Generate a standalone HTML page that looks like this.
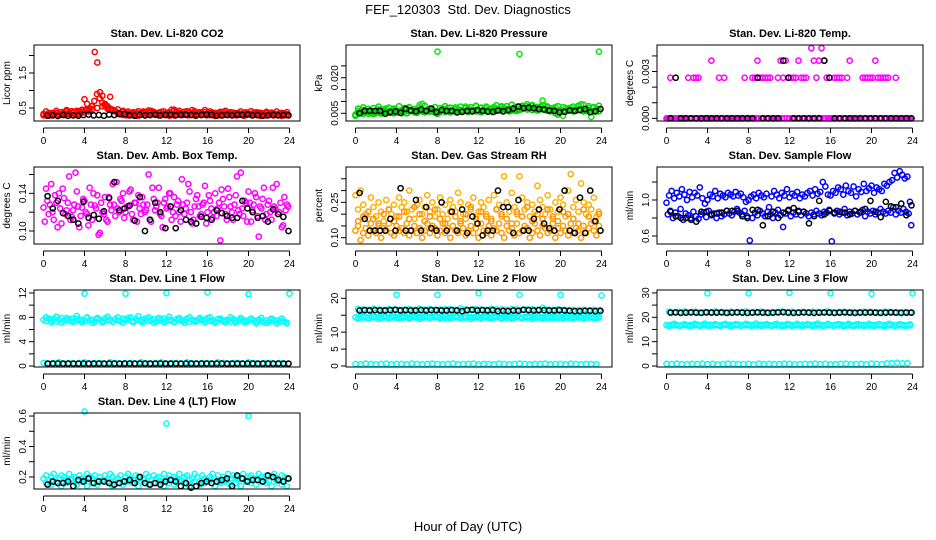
<!DOCTYPE html>
<html><head><meta charset="utf-8"><style>
html,body{margin:0;padding:0;background:#fff;}
svg{display:block;font-family:"Liberation Sans",Arial,sans-serif;}
</style></head><body>
<svg id="chart" width="936" height="540" viewBox="0 0 936 540">
<text x="468" y="14" font-size="13" text-anchor="middle" style="white-space:pre">FEF_120303  Std. Dev. Diagnostics</text>
<text x="468" y="531" font-size="13" text-anchor="middle">Hour of Day (UTC)</text>
</svg>
<script>
// ---- data arrays ----
const co2Red1=[.33,.30,.35,.31,.34,.36,.32,.38,.35,.40,.37,.41,.39,.42,.40,.43,.75,.62,.48,.55,2.1,1.8,.95,.85,.62,.55,.82,.45,.40,.36,.34,.38,.33,.35,.31,.34,.37,.33,.36,.40,.35,.38,.42,.36,.34,.37,.39,.33,.35,.32,.45,.42,.38,.36,.34,.39,.41,.37,.44,.35,.33,.36,.34,.38,.32,.35,.37,.33,.36,.34,.38,.40,.35,.33,.37,.34,.36,.32,.35,.38,.34,.33,.36,.35,.37,.34,.32,.35,.33,.36,.34,.31,.35,.33,.34,.32];
const co2Red2=[.29,.31,.28,.30,.32,.29,.31,.33,.30,.34,.32,.35,.31,.33,.36,.38,.45,.40,.55,.70,.90,.78,.65,.58,.50,.48,.42,.40,.33,.31,.30,.29,.32,.30,.31,.28,.30,.32,.29,.31,.30,.33,.31,.29,.30,.32,.31,.28,.30,.29,.31,.33,.30,.32,.29,.31,.30,.28,.32,.30,.31,.29,.30,.32,.28,.31,.30,.29,.32,.30,.31,.33,.29,.30,.31,.28,.30,.32,.29,.31,.30,.28,.31,.29,.30,.32,.29,.31,.30,.28,.29,.30];
const co2Red3=[.40,.36,.42,.38,.44,.41,.39,.45,.43,.47,.50,.55,.48,.44,.46,.42,.40,.38,.41,.37,.43,.39,.36,.40,.38,.45,.42,.39,.37,.41,.38,.44,.40,.36,.39,.42,.38,.35,.40,.37,.41,.38,.36,.39,.37,.40,.36,.38];
const co2Black=[.28,.29,.27,.30,.28,.29,.28,.30,.31,.29,.30,.28,.31,.30,.34,.33,.29,.28,.30,.29,.30,.31,.29,.30,.31,.29,.30,.31,.30,.29,.30,.32,.30,.28,.29,.30,.29,.31,.30,.32,.29,.30,.28,.29,.30,.29,.30,.29];

const presGreen1=[.0045,.0060,.0050,.0065,.0055,.0048,.0062,.0058,.0050,.0066,.0054,.0060,.0070,.0058,.0052,.0064,.0056,.0061,.0050,.0066,.0072,.0058,.0060,.0055,.0064,.0085,.0090,.0062,.0058,.0070,.0066,.0060,.0310,.0055,.0062,.0068,.0072,.0060,.0058,.0075,.0066,.0062,.0060,.0078,.0070,.0064,.0060,.0080,.0058,.0072,.0066,.0074,.0062,.0068,.0076,.0070,.0064,.0080,.0072,.0066,.0070,.0062,.0074,.0068,.0300,.0078,.0072,.0080,.0070,.0085,.0076,.0068,.0078,.0104,.0082,.0074,.0066,.0070,.0076,.0060,.0064,.0040,.0072,.0066,.0074,.0062,.0070,.0080,.0088,.0068,.0064,.0072,.0035,.0074,.0070,.0310];
const presGreen2=[.0040,.0052,.0058,.0048,.0055,.0060,.0050,.0047,.0056,.0062,.0049,.0054,.0058,.0052,.0060,.0050,.0053,.0058,.0062,.0055,.0050,.0059,.0063,.0056,.0052,.0060,.0058,.0054,.0062,.0057,.0060,.0053,.0048,.0058,.0064,.0056,.0060,.0054,.0062,.0059,.0055,.0063,.0058,.0060,.0056,.0064,.0060,.0058,.0062,.0055,.0060,.0065,.0058,.0062,.0056,.0060,.0064,.0066,.0060,.0063,.0058,.0067,.0062,.0060,.0064,.0068,.0072,.0066,.0070,.0064,.0068,.0062,.0066,.0070,.0064,.0060,.0058,.0062,.0050,.0045,.0056,.0060,.0058,.0062,.0064,.0058,.0060,.0066,.0062,.0058,.0060,.0064,.0056,.0060,.0062,.0058];
const presGreen3=[.0070,.0075,.0068,.0072,.0078,.0066,.0074,.0070,.0080,.0072,.0076,.0068,.0074,.0082,.0070,.0076,.0072,.0080,.0074,.0068,.0078,.0072,.0076,.0082,.0074,.0078,.0070,.0084,.0076,.0080,.0086,.0078,.0082,.0088,.0080,.0076,.0084,.0078,.0072,.0080,.0076,.0070,.0078,.0082,.0086,.0080,.0076,.0082];
const presBlack=[.0050,.0060,.0060,.0060,.0060,.0048,.0055,.0058,.0052,.0068,.0062,.0058,.0066,.0060,.0070,.0055,.0064,.0060,.0060,.0054,.0056,.0060,.0058,.0064,.0060,.0057,.0056,.0062,.0058,.0064,.0070,.0078,.0072,.0074,.0072,.0068,.0066,.0062,.0060,.0054,.0056,.0062,.0060,.0064,.0068,.0055,.0058,.0068];

const tempMag1=[0,0,0,0,0,0,0,0,0,0,0,0,0,0,0,0,0,0,0,0,0,0,0,0,0,0,0,0,0,0,0,0,0,0,0,0,0,0,0,0,0,0,0,0,0,0,0,0,0,0,0,0,0,0,0,0,0,0,0,0,0,0,0,0,0,0,0,0,0,0,0,0,0,0,0,0,0,0,0,0,0,0,0,0,0,0,0,0,0,0,0,0,0,0,0,0];
const tempMag2=[0,.0026,0,0,0,0,0,0,.0026,0,.0026,.0026,.0026,0,0,0,0,.0037,0,0,.0026,0,.0026,0,0,0,0,0,0,0,.0026,0,0,.0026,.0026,.0037,.0026,.0026,.0026,.0026,.0026,0,0,.0026,.0037,.0026,.0037,.0026,.0026,.0026,.0026,.0037,.0026,.0026,.0026,0,.0045,.0037,.0026,.0037,.0045,.0037,.0026,0,0,.0026,.0026,.0026,.0026,0,.0026,.0037,0,0,0,0,.0026,.0026,.0026,.0026,.0026,.0037,.0026,.0026,.0026,.0026,.0026,0,0,.0026,0,0,0,0,0,0];
const tempBlack=[0,.0026,0,0,0,0,0,0,0,0,0,0,0,0,0,0,0,.0026,0,0,0,0,.0037,.0026,0,0,0,0,0,0,.0037,.0026,0,0,0,0,0,0,0,0,0,0,0,0,0,0,0,0];

const ambMag1=[.125,.145,.118,.150,.112,.130,.140,.108,.135,.122,.158,.115,.128,.142,.104,.125,.132,.118,.146,.112,.127,.138,.098,.120,.136,.110,.128,.150,.116,.124,.134,.140,.120,.126,.144,.112,.130,.138,.118,.128,.122,.160,.110,.134,.126,.146,.116,.130,.124,.140,.112,.136,.128,.120,.155,.118,.130,.142,.108,.126,.138,.116,.128,.148,.120,.132,.114,.140,.124,.090,.134,.118,.145,.126,.112,.138,.122,.162,.116,.130,.142,.110,.128,.136,.094,.124,.146,.118,.132,.112,.126,.150,.120,.104,.136,.128];
const ambMag2=[.110,.132,.128,.120,.138,.104,.124,.145,.118,.130,.112,.122,.162,.126,.116,.134,.120,.106,.128,.140,.124,.096,.130,.118,.112,.136,.122,.128,.152,.120,.132,.114,.126,.142,.118,.130,.110,.124,.136,.120,.128,.112,.146,.122,.130,.118,.104,.134,.126,.140,.120,.116,.132,.110,.128,.124,.150,.120,.112,.134,.126,.118,.130,.108,.138,.124,.120,.116,.130,.144,.126,.112,.136,.120,.128,.158,.118,.124,.132,.110,.130,.122,.140,.116,.126,.134,.112,.128,.120,.146,.124,.118,.130,.106,.122,.126];
const ambBlack=[.137,.124,.132,.119,.116,.112,.108,.131,.114,.117,.113,.121,.135,.152,.122,.124,.127,.111,.136,.100,.112,.130,.120,.103,.126,.103,.122,.112,.110,.108,.115,.114,.112,.122,.119,.116,.114,.114,.132,.124,.120,.114,.116,.110,.123,.118,.115,.100];

const rhOrange1=[.13,.15,.09,.12,.14,.11,.16,.13,.12,.15,.10,.14,.13,.16,.12,.11,.15,.13,.14,.12,.16,.11,.13,.15,.12,.14,.10,.13,.16,.12,.15,.14,.11,.13,.16,.12,.14,.10,.15,.13,.12,.16,.14,.11,.13,.15,.12,.14,.10,.16,.13,.12,.15,.11,.14,.13,.16,.12,.10,.15,.13,.14,.11,.16,.12,.13,.15,.14,.10,.12,.16,.13,.11,.15,.14,.12,.13,.16,.10,.14,.12,.15,.13,.11,.16,.12,.14,.13,.10,.15,.12,.14,.16,.13,.11,.15];
const rhOrange2=[.28,.22,.30,.24,.20,.18,.27,.23,.19,.25,.21,.17,.26,.22,.20,.24,.19,.27,.23,.25,.21,.30,.22,.18,.24,.26,.20,.23,.28,.21,.25,.19,.22,.27,.20,.24,.18,.26,.23,.21,.29,.25,.20,.18,.24,.22,.27,.19,.21,.25,.23,.20,.26,.18,.28,.22,.24,.19,.36,.25,.21,.29,.23,.20,.36,.27,.22,.25,.19,.24,.21,.32,.26,.23,.20,.28,.22,.18,.25,.21,.27,.24,.19,.30,.37,.23,.26,.21,.33,.25,.20,.24,.22,.27,.19,.21];
const rhOrange3=[.17,.19,.21,.18,.16,.20,.22,.17,.19,.21,.18,.23,.20,.17,.19,.22,.18,.16,.21,.19,.17,.20,.23,.18,.21,.19,.17,.22,.20,.18,.16,.21,.19,.23,.17,.20,.18,.22,.19,.17,.21,.20,.18,.16,.22,.19,.17,.20];
const rhBlack=[.29,.18,.13,.13,.13,.13,.18,.13,.31,.13,.13,.26,.13,.23,.14,.13,.25,.13,.21,.13,.22,.12,.19,.16,.11,.13,.13,.30,.23,.23,.12,.26,.13,.13,.18,.22,.16,.14,.13,.22,.30,.13,.12,.27,.12,.30,.17,.13];

const flowBlue1=[.84,.88,.80,.86,.82,.90,.78,.85,.83,.80,.87,.82,.79,.84,.86,.81,.88,.83,.85,.80,.86,.82,.84,.88,.85,.83,.87,.90,.86,.84,.88,.82,.55,.80,.86,.83,.88,.85,.82,.87,.84,.80,.86,.89,.83,.70,.85,.88,.82,.86,.84,.88,.83,.87,.85,.82,.86,.84,.88,.85,.83,.87,.86,.89,.54,.85,.88,.84,.86,.90,.83,.87,.85,.88,.84,.86,.89,.82,.87,.85,.88,.84,.86,.90,.87,.85,.88,.86,.92,.84,.88,.86,.90,.87,.85,.72];
const flowBlue2=[.97,1.05,1.10,1.02,1.08,1.04,1.12,1.06,1.00,1.09,1.03,1.08,1.05,1.14,1.02,.96,1.00,1.06,1.04,1.10,1.02,1.07,1.05,1.03,1.08,1.06,1.04,1.09,1.05,1.07,1.03,.98,1.00,1.04,1.06,1.02,1.08,1.05,1.03,1.07,.92,1.04,1.10,1.06,1.02,1.08,1.05,1.12,1.03,1.07,1.05,1.09,1.02,1.06,1.04,1.08,1.10,1.05,1.12,1.07,1.09,1.20,1.15,1.06,1.05,1.10,1.08,1.14,1.12,1.06,1.16,1.10,1.08,1.15,1.04,1.12,1.09,1.18,1.10,1.13,1.16,1.08,1.14,1.12,1.10,1.18,1.16,1.20,1.22,1.30,1.25,1.32,1.28,1.24,1.26,.98];
const flowBlack=[.87,.82,.80,.80,.78,.76,.87,.87,.84,.85,.86,.88,.88,.88,.82,.80,.89,.89,.72,.82,.87,.80,.86,.89,.91,.87,.87,.74,.82,.99,.84,.88,.86,.87,.86,.84,.88,.87,.90,.99,.87,.81,.98,.93,.92,.96,.83,.94];

const line1Cyan1=[7.6,7.4,7.8,7.5,7.7,7.3,7.6,7.9,7.4,7.6,7.5,7.8,7.3,7.7,7.5,7.6,7.4,7.9,7.5,7.6,7.3,7.7,7.6,7.4,7.8,7.5,7.6,7.3,7.7,7.5,7.4,7.8,7.6,7.5,8.0,7.4,7.7,7.5,7.3,7.6,7.8,7.4,7.5,7.7,7.3,7.6,7.5,7.8,7.4,7.6,7.5,7.3,7.7,7.6,7.4,7.5,7.8,7.3,7.6,7.5,7.4,7.7,7.5,7.6,7.9,7.4,7.5,7.3,7.7,7.6,7.4,7.5,7.6,7.3,7.7,7.4,7.5,7.6,7.3,7.5,7.4,7.7,7.5,7.3,7.6,7.4,7.2,7.5,7.3,7.6,7.4,7.5,7.2,7.4,7.3,7.1];
const line1Cyan2=[0.5,0.4,0.5,0.6,0.4,0.5,0.4,0.5,0.6,0.4,0.5,0.5,0.4,0.6,0.5,0.4,0.5,0.5,0.4,0.6,0.5,0.4,0.5,0.6,0.4,0.5,0.5,0.4,0.6,0.5,0.4,0.5,0.5,0.4,0.6,0.5,0.4,0.5,0.5,0.4,0.6,0.5,0.4,0.5,0.5,0.4,0.5,0.4];
const line1Cyan3=[8.0,7.2,8.1,7.1,7.9,7.3,8.2,7.2,8.0,7.1,7.9,7.2,8.1,7.3,8.0,7.1,7.9,7.2,8.2,7.3,8.0,7.1,7.9,7.2,8.1,7.2,7.9,7.1,8.0,7.3,7.9,7.2,8.0,7.1,7.8,7.2,8.0,7.1,7.9,7.2,7.8,7.0,7.9,7.1,7.8,7.0,7.8,7.0];
const line1Black=[0.4,0.4,0.4,0.4,0.4,0.4,0.4,0.4,0.4,0.4,0.4,0.4,0.4,0.4,0.4,0.4,0.4,0.4,0.4,0.4,0.4,0.4,0.4,0.4,0.4,0.4,0.4,0.4,0.4,0.4,0.4,0.4,0.4,0.4,0.4,0.4,0.4,0.4,0.4,0.4,0.4,0.4,0.4,0.4,0.4,0.4,0.4,0.4];
const line1OutHours=[4,8,12,16,20,24];
const line1OutVals=[11.9,11.9,12.0,12.1,11.8,11.9];

const line2Cyan1=[14.4,14.2,14.6,14.3,14.5,14.1,14.4,14.6,14.3,14.5,14.2,14.4,14.6,14.3,14.5,14.4,14.2,14.6,14.3,14.4,14.5,14.2,14.6,14.4,14.3,14.5,14.2,14.4,14.6,14.3,14.5,14.4,14.6,14.3,14.5,14.2,14.4,14.6,14.3,14.5,14.4,14.2,14.6,14.3,14.4,14.5,14.2,14.4,14.6,14.3,14.5,14.4,14.2,14.6,14.3,14.5,14.4,14.3,14.6,14.2,14.5,14.4,14.3,14.6,14.4,14.2,14.5,14.3,14.6,14.4,14.2,14.5,14.3,14.4,14.6,14.2,14.4,14.5,14.3,14.2,14.5,14.4,14.6,14.3,14.2,14.4,14.5,14.3,14.6,14.2,14.4,14.3,14.5,14.4,14.2,14.3];
const line2Cyan2=[0.6,0.5,0.7,0.6,0.5,0.6,0.7,0.5,0.6,0.6,0.5,0.7,0.6,0.5,0.6,0.7,0.6,0.5,0.6,0.7,0.5,0.6,0.6,0.7,0.5,0.6,0.6,0.5,0.7,0.6,0.5,0.6,0.7,0.6,0.5,0.6,0.6,0.7,0.5,0.6,0.6,0.5,0.7,0.6,0.5,0.6,0.6,0.5];
const line2Cyan3=[16.8,16.7,16.6,16.9,16.7,16.6,16.8,16.7,16.6,16.7,16.8,16.6,16.9,16.7,16.8,16.6,16.7,16.7,16.8,16.6,17.0,16.7,16.6,16.8,16.7,16.6,16.9,16.7,16.7,16.6,16.8,16.7,16.6,16.7,16.8,16.6,17.2,16.7,16.6,16.7,16.6,16.5,16.6,16.5,16.6,16.5,16.6,16.5];
const line2Cyan4=[14.0,14.8,14.1,14.7,13.9,14.8,14.0,14.9,14.1,14.7,14.0,14.8,13.9,14.7,14.1,14.8,14.0,14.9,14.0,14.7,14.1,14.8,13.9,14.7,14.0,14.8,14.1,14.7,14.0,14.9,14.0,14.8,14.1,14.7,13.9,14.8,14.0,14.7,14.1,14.8,14.0,14.7,13.9,14.8,14.0,14.7,14.1,14.6];
const line2Black=[16.4,16.5,16.4,16.5,16.4,16.4,16.5,16.6,16.4,16.5,16.4,16.4,16.5,16.4,16.5,16.5,16.4,16.4,16.5,16.4,16.2,16.5,16.6,16.4,16.5,16.4,16.5,16.2,16.3,16.2,16.4,16.3,16.6,16.5,16.4,16.5,16.5,16.4,16.4,16.5,16.4,16.3,16.2,16.2,16.3,16.3,16.2,16.3];
const line2OutHours=[4,8,12,16,20,24];
const line2OutVals=[21.0,21.0,21.5,21.0,21.0,20.8];

const line3Cyan1=[16.8,16.6,17.0,16.7,16.9,16.5,16.8,17.0,16.7,16.9,16.6,16.8,17.0,16.7,16.9,16.8,16.6,17.0,16.7,16.8,16.9,16.6,17.0,16.8,16.7,16.9,16.6,16.8,17.0,16.7,16.9,16.8,17.0,16.7,16.9,16.6,16.8,17.0,16.7,16.9,16.8,16.6,17.0,16.7,16.8,16.9,16.6,16.8,17.0,16.7,16.9,16.8,16.6,17.0,16.7,16.9,16.8,16.7,17.0,16.6,16.9,16.8,16.7,17.0,16.8,16.6,16.9,16.7,17.0,16.8,16.6,16.9,16.7,16.8,17.0,16.6,16.8,16.9,16.7,16.6,16.9,16.8,17.0,16.7,16.6,16.8,16.9,16.7,17.0,16.6,16.8,16.7,16.9,16.8,16.6,16.7];
const line3Cyan2=[0.9,0.8,1.0,0.8,0.7,0.9,0.8,1.0,0.8,0.9,0.7,0.8,1.0,0.9,0.8,0.8,0.9,0.7,1.0,0.8,0.9,0.8,0.8,1.0,0.9,0.7,0.8,0.9,0.8,1.0,0.8,0.9,0.7,0.8,0.9,1.0,0.8,0.8,0.9,0.7,1.0,0.9,0.8,1.1,1.2,1.3,1.1,1.2];
const line3Cyan3=[22.3,22.0,22.2,22.4,22.1,22.3,22.0,22.2,22.1,22.4,22.2,22.0,22.3,22.1,22.2,22.4,22.0,22.2,22.3,22.1,22.0,22.2,22.4,22.1,22.3,22.0,22.2,22.1,22.3,22.2,22.0,22.4,22.1,22.2,22.3,22.0,22.2,22.1,22.3,22.2,22.0,22.1,22.3,22.2,22.0,22.1,22.2,22.0];
const line3Cyan4=[16.4,17.3,16.5,17.2,16.3,17.3,16.4,17.4,16.5,17.2,16.4,17.3,16.3,17.2,16.5,17.3,16.4,17.4,16.4,17.2,16.5,17.3,16.3,17.2,16.4,17.3,16.5,17.2,16.4,17.4,16.4,17.3,16.5,17.2,16.3,17.3,16.4,17.2,16.5,17.3,16.4,17.2,16.3,17.3,16.4,17.2,16.5,17.1];
const line3Black=[21.9,22.0,21.8,21.9,22.0,21.9,21.8,22.0,21.9,21.9,22.0,21.8,21.9,22.0,21.9,21.8,21.9,22.0,21.9,21.8,21.9,22.0,22.1,21.9,21.8,21.9,22.0,21.9,21.8,21.9,22.0,21.9,21.8,21.9,22.0,21.9,21.8,21.9,21.9,22.0,21.9,21.8,21.9,22.0,21.9,21.8,21.9,21.9];
const line3OutHours=[4,8,12,16,20,24];
const line3OutVals=[29.8,29.8,30.0,29.8,29.6,29.8];

const line4Cyan1=[.19,.21,.18,.20,.22,.17,.19,.21,.20,.18,.22,.19,.20,.17,.21,.19,.18,.22,.20,.19,.21,.17,.20,.18,.21,.19,.22,.20,.18,.19,.21,.17,.20,.22,.19,.18,.21,.20,.17,.19,.22,.20,.18,.21,.19,.20,.17,.22,.19,.21,.18,.20,.19,.22,.17,.20,.21,.18,.19,.22,.20,.17,.21,.19,.18,.20,.22,.19,.21,.17,.20,.18,.22,.19,.21,.20,.18,.19,.22,.17,.20,.21,.19,.18,.22,.20,.19,.21,.17,.20,.22,.19,.18,.21,.20,.19];
const line4Cyan2=[.16,.15,.17,.14,.16,.18,.15,.17,.14,.16,.15,.18,.17,.14,.16,.15,.17,.16,.14,.18,.15,.16,.17,.14,.16,.15,.18,.16,.14,.17,.15,.16,.18,.14,.16,.17,.15,.16,.14,.18,.16,.15,.17,.16,.14,.17,.15,.14];
const line4Black=[.15,.17,.16,.16,.17,.14,.18,.17,.19,.16,.17,.17,.16,.15,.16,.17,.18,.16,.20,.16,.15,.16,.15,.17,.18,.17,.14,.16,.13,.14,.16,.17,.16,.17,.18,.19,.14,.21,.19,.17,.18,.18,.17,.21,.20,.18,.17,.19];
const line4OutHours=[4,12,20];
const line4OutVals=[0.63,0.55,0.60];

const xTicks=[0,4,8,12,16,20,24];

// ---- layout ----
const NS="http://www.w3.org/2000/svg";
const svg=document.getElementById('chart');
const colL=[34,346,657], W=266;
const rowT=[45,167,290,413], rowB=[121,244,367,489];
function el(tag,attrs,parent){const e=document.createElementNS(NS,tag);for(const k in attrs)e.setAttribute(k,attrs[k]);(parent||svg).appendChild(e);return e;}

const panels=[
 {name:'co2',title:'Stan. Dev. Li-820 CO2',ylab:'Licor ppm',c:0,r:0,ymin:0.129,ymax:2.3,ticks:[0.5,1.0,1.5,2.0],tl:['0.5','','1.5',''],
  series:[[co2Red1,'#ff0000'],[co2Red3,'#ff0000'],[co2Red2,'#ff0000'],[co2Black,'#000000']]},
 {name:'pressure',title:'Stan. Dev. Li-820 Pressure',ylab:'kPa',c:1,r:0,ymin:0.00175,ymax:0.0338,ticks:[0.005,0.010,0.015,0.020,0.025],tl:['0.005','','','0.020',''],
  series:[[presGreen1,'#00ee00'],[presGreen3,'#00dd00'],[presGreen2,'#00cc00'],[presBlack,'#000000']]},
 {name:'temp',title:'Stan. Dev. Li-820 Temp.',ylab:'degrees C',c:2,r:0,ymin:-0.00017,ymax:0.0047,ticks:[0,0.001,0.002,0.003,0.004],tl:['0.000','','','0.003',''],
  series:[[tempMag1,'#ff00ff'],[tempMag2,'#ff00ff'],[tempBlack,'#000000']]},
 {name:'amb-temp',title:'Stan. Dev. Amb. Box Temp.',ylab:'degrees C',c:0,r:1,ymin:0.0862,ymax:0.168,ticks:[0.10,0.12,0.14,0.16],tl:['0.10','','0.14',''],
  series:[[ambMag1,'#ff00ff'],[ambMag2,'#ff00ff'],[ambBlack,'#000000']]},
 {name:'rh',title:'Stan. Dev. Gas Stream RH',ylab:'percent',c:1,r:1,ymin:0.0733,ymax:0.40,ticks:[0.10,0.15,0.20,0.25,0.30,0.35],tl:['0.10','','','0.25','',''],
  series:[[rhOrange2,'#ffb000'],[rhOrange3,'#ff9000'],[rhOrange1,'#ff9a00'],[rhBlack,'#000000']]},
 {name:'sample-flow',title:'Stan. Dev. Sample Flow',ylab:'ml/min',c:2,r:1,ymin:0.511,ymax:1.367,ticks:[0.6,0.8,1.0,1.2],tl:['0.6','','1.0',''],
  series:[[flowBlue2,'#0000ff'],[flowBlue1,'#0000ff'],[flowBlack,'#000000']]},
 {name:'line1-flow',title:'Stan. Dev. Line 1 Flow',ylab:'ml/min',c:0,r:2,ymin:-0.16,ymax:12.49,ticks:[0,2,4,6,8,10,12],tl:['0','','4','','8','','12'],
  series:[[line1Cyan1,'#00ffff'],[line1Cyan3,'#00ffff'],[line1Cyan2,'#00ffff'],[line1Black,'#000000']],out:[line1OutHours,line1OutVals]},
 {name:'line2-flow',title:'Stan. Dev. Line 2 Flow',ylab:'ml/min',c:1,r:2,ymin:-0.3,ymax:22.45,ticks:[0,5,10,15,20],tl:['0','5','10','','20'],
  series:[[line2Cyan1,'#00ffff'],[line2Cyan4,'#00ffff'],[line2Cyan2,'#00ffff'],[line2Cyan3,'#00ffff'],[line2Black,'#000000']],out:[line2OutHours,line2OutVals]},
 {name:'line3-flow',title:'Stan. Dev. Line 3 Flow',ylab:'ml/min',c:2,r:2,ymin:-0.4,ymax:31.2,ticks:[0,5,10,15,20,25,30],tl:['0','','10','','20','','30'],
  series:[[line3Cyan1,'#00ffff'],[line3Cyan4,'#00ffff'],[line3Cyan2,'#00ffff'],[line3Cyan3,'#00ffff'],[line3Black,'#000000']],out:[line3OutHours,line3OutVals]},
 {name:'line4-flow',title:'Stan. Dev. Line 4 (LT) Flow',ylab:'ml/min',c:0,r:3,ymin:0.121,ymax:0.62,ticks:[0.2,0.3,0.4,0.5,0.6],tl:['0.2','','0.4','','0.6'],
  series:[[line4Cyan1,'#00ffff'],[line4Cyan2,'#00ffff'],[line4Black,'#000000']],out:[line4OutHours,line4OutVals]}
];

panels.forEach(p=>{
  const L=colL[p.c], T=rowT[p.r], B=rowB[p.r];
  const g=el('g',{});
  
  
  const xs=h=>L+9.5+h*(246/24);
  const ys=v=>B-(v-p.ymin)/(p.ymax-p.ymin)*(B-T);
  const t=el('text',{x:L+W/2,y:T-8,'font-size':11,'font-weight':'bold','text-anchor':'middle'},g);
  t.textContent=p.title;
  
  
  const yl=el('text',{x:0,y:0,'font-size':10,'text-anchor':'middle',transform:`translate(${L-24},${(T+B)/2}) rotate(-90)`},g);
  yl.textContent=p.ylab;
  
  
  const xa=el('g',{},g);
  
  
  el('line',{x1:xs(0),x2:xs(24),y1:B+7,y2:B+7,stroke:'#000','stroke-width':1},xa);
  xTicks.forEach(h=>{
    el('line',{x1:xs(h),x2:xs(h),y1:B+7,y2:B+12,stroke:'#000','stroke-width':1},xa);
    const tx=el('text',{x:xs(h),y:B+23,'font-size':10,'text-anchor':'middle'},xa);
    tx.textContent=h;
  });
  const ya=el('g',{},g);
  
  
  el('line',{x1:L,x2:L,y1:ys(p.ticks[0]),y2:ys(p.ticks[p.ticks.length-1]),stroke:'#000','stroke-width':1},ya);
  p.ticks.forEach((v,i)=>{
    const y=ys(v);
    el('line',{x1:L-5,x2:L,y1:y,y2:y,stroke:'#000','stroke-width':1},ya);
    if(p.tl[i]){
      const ty=el('text',{x:0,y:0,'font-size':10,'text-anchor':'middle',transform:`translate(${L-8},${y}) rotate(-90)`},ya);
      ty.textContent=p.tl[i];
    }
  });
  const mk=el('g',{fill:'none','stroke-width':1.5},g);
  
  
  const drawPts=(hours,vals,col)=>{
    vals.forEach((v,i)=>{
      const c=el('circle',{cx:xs(hours[i]),cy:ys(v),r:2.6,stroke:col},mk);
      
      
    });
  };
  p.series.forEach(([vals,col],si)=>{
    const black=col==='#000000';
    const off=(si%2)*(12/vals.length);
    const hrs=vals.map((_,i)=>black?(i+1)*24/vals.length-0.1:i*24/vals.length+off);
    if(black && p.out) drawPts(p.out[0],p.out[1],'#00ffff');
    drawPts(hrs,vals,col);
  });
  const bx=el('rect',{x:L,y:T,width:W,height:B-T,fill:'none',stroke:'#000','stroke-width':1},g);
  
  
});
</script>
</body></html>
